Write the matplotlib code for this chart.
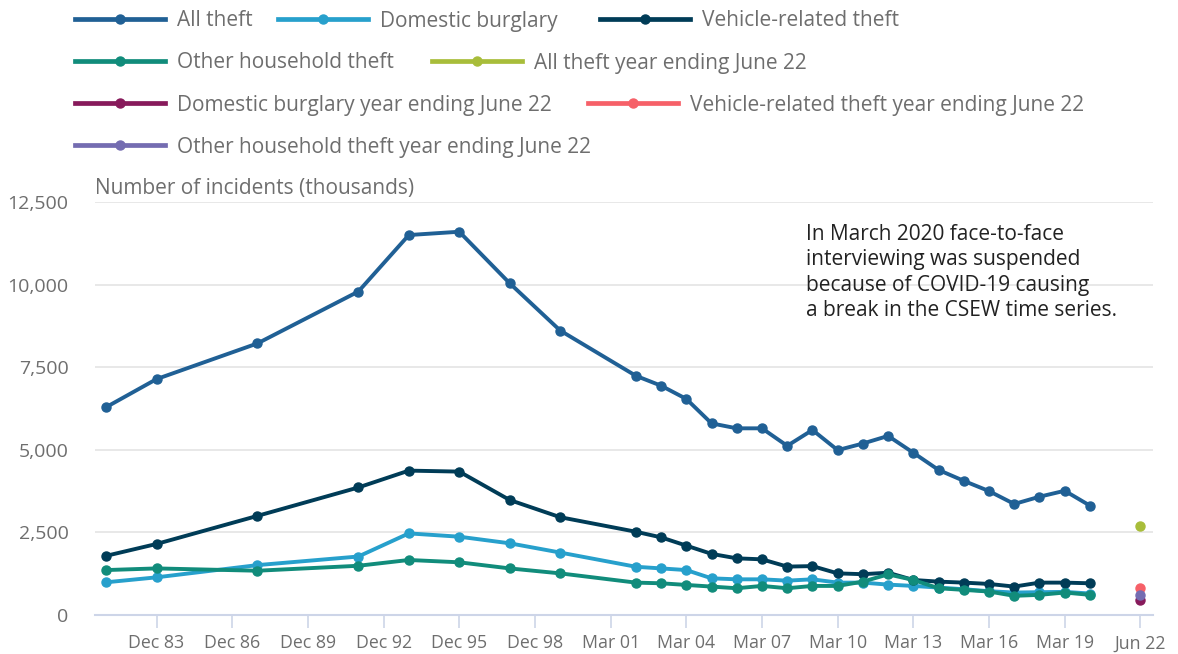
import numpy as np
import matplotlib
matplotlib.use("Agg")
import matplotlib.pyplot as plt
from matplotlib.lines import Line2D

plt.rcParams['font.family'] = ['Open Sans', 'DejaVu Sans']

# categorías del eje x (una por año de encuesta)
categorias = [f"Dec {y % 100:02d}" for y in range(1981, 2001)] + \
             [f"Mar {y % 100:02d}" for y in range(2001, 2022)] + ["Jun 22"]

# periodos con datos
periodos = ["Dec 81", "Dec 83", "Dec 87", "Dec 91", "Dec 93", "Dec 95", "Dec 97", "Dec 99"] + \
           [f"Mar {y % 100:02d}" for y in range(2002, 2021)]

all_theft = [6290, 7140, 8220, 9790, 11500, 11600, 10040, 8610, 7240, 6940, 6540, 5800, 5650,
             5650, 5120, 5600, 4990, 5190, 5420, 4910, 4390, 4060, 3750, 3360, 3580, 3760, 3310]
domestic_burglary = [990, 1140, 1510, 1770, 2470, 2370, 2170, 1890, 1460, 1410, 1360, 1110, 1080,
                     1080, 1040, 1080, 980, 980, 920, 880, 830, 780, 720, 680, 690, 700, 650]
vehicle_theft = [1790, 2150, 3000, 3860, 4370, 4340, 3480, 2960, 2520, 2350, 2100, 1850, 1715,
                 1685, 1465, 1480, 1260, 1235, 1280, 1060, 1010, 980, 940, 860, 980, 980, 960]
other_household = [1360, 1410, 1340, 1490, 1665, 1595, 1410, 1260, 980, 960, 910, 860, 810,
                   880, 810, 880, 880, 1010, 1230, 1060, 810, 760, 710, 580, 610, 680, 610]

# año que termina en junio 2022
periodo_jun22 = "Jun 22"
all_theft_jun22 = 2690
domestic_burglary_jun22 = 460
vehicle_theft_jun22 = 830
other_household_jun22 = 620

tick_labels = ["Dec 83", "Dec 86", "Dec 89", "Dec 92", "Dec 95", "Dec 98", "Mar 01",
               "Mar 04", "Mar 07", "Mar 10", "Mar 13", "Mar 16", "Mar 19", "Jun 22"]

series = [
    ("All theft", all_theft, "#206095"),
    ("Domestic burglary", domestic_burglary, "#27a0cc"),
    ("Vehicle-related theft", vehicle_theft, "#003c57"),
    ("Other household theft", other_household, "#118c7b"),
]
series_jun22 = [
    ("All theft year ending June 22", all_theft_jun22, "#a8bd3a"),
    ("Domestic burglary year ending June 22", domestic_burglary_jun22, "#871a5b"),
    ("Vehicle-related theft year ending June 22", vehicle_theft_jun22, "#f66068"),
    ("Other household theft year ending June 22", other_household_jun22, "#746cb1"),
]

W, H = 1178, 654
fig = plt.figure(figsize=(W / 100, H / 100), dpi=100)
ax = fig.add_axes([95 / W, 1 - 615 / H, (1153 - 95) / W, (615 - 202) / H])

x = [categorias.index(p) for p in periodos]
for nombre, vals, color in series:
    ax.plot(x, vals, color=color, lw=2.8, marker='o', ms=6.5, clip_on=False, zorder=3)

xj = categorias.index(periodo_jun22)
for nombre, val, color in series_jun22:
    ax.plot([xj], [val], color=color, lw=2.8, marker='o', ms=6.5, ls='none', clip_on=False, zorder=3)

ax.set_xlim(-0.44, 41.5)
ax.set_ylim(0, 12500)
ax.set_yticks(np.arange(0, 12501, 2500))
ax.set_yticklabels([f"{v:,}" for v in range(0, 12501, 2500)])
ax.set_xticks([categorias.index(t) for t in tick_labels])
ax.set_xticklabels(tick_labels)

ax.grid(axis='y', color='#e4e4e4', lw=1.2)
ax.set_axisbelow(True)
for s in ['top', 'right', 'left']:
    ax.spines[s].set_visible(False)
ax.spines['bottom'].set_color('#cdd5e8')
ax.spines['bottom'].set_linewidth(1.5)
ax.tick_params(axis='x', colors='#cdd5e8', length=9, width=1.2, labelcolor='#6e6e6e',
               labelsize=12.8, pad=5)
ax.tick_params(axis='y', length=0, labelcolor='#6e6e6e', labelsize=14, pad=19)

fig.text(95 / W, 1 - 189 / H, "Number of incidents (thousands)", fontsize=15,
         color='#6e6e6e', va='center', ha='left')

nota = ("In March 2020 face-to-face\ninterviewing was suspended\n"
        "because of COVID-19 causing\na break in the CSEW time series.")
fig.text(806 / W, 1 - 224 / H, nota, fontsize=15, color='#222222', va='top', ha='left',
         linespacing=1.27)

# leyenda manual (disposición en flujo como el original)
entradas = series + [(n, v, c) for n, v, c in series_jun22]
posiciones = [(75, 19), (278, 19), (600, 19),
              (75, 61), (432, 61),
              (75, 103), (588, 103),
              (75, 145)]
for (nombre, _, color), (px, py) in zip(entradas, posiciones):
    yf = 1 - py / H
    fig.add_artist(Line2D([px / W, (px + 90) / W], [yf, yf], color=color, lw=3.4,
                          transform=fig.transFigure))
    fig.add_artist(Line2D([(px + 45) / W], [yf], color=color, marker='o', ms=6.5,
                          transform=fig.transFigure))
    fig.text((px + 102) / W, yf - 2 / H, nombre, fontsize=15, color='#6e6e6e',
             va='center', ha='left')

fig.savefig("out.png", dpi=100)
